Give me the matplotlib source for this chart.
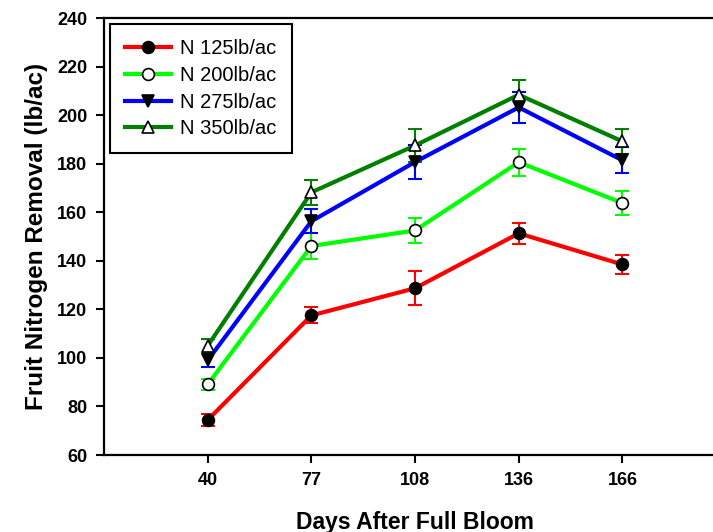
import matplotlib
matplotlib.use('Agg')
import matplotlib.pyplot as plt

days = ['40', '77', '108', '136', '166']

labels = ['N 125lb/ac', 'N 200lb/ac', 'N 275lb/ac', 'N 350lb/ac']

n125 = [74.4, 117.5, 128.7, 151.3, 138.5]
n125_se = [2.4, 3.3, 7.0, 4.3, 3.8]

n200 = [89.1, 146.1, 152.5, 180.6, 163.8]
n200_se = [2.2, 5.2, 5.1, 5.6, 4.9]

n275 = [99.0, 156.3, 180.7, 203.2, 181.4]
n275_se = [2.9, 5.0, 7.2, 6.3, 5.3]

n350 = [105.0, 168.2, 187.5, 208.4, 189.2]
n350_se = [2.8, 5.1, 6.7, 6.1, 5.2]

plt.rcParams['font.family'] = ['Liberation Sans', 'DejaVu Sans']

fig = plt.figure(figsize=(7.13, 5.32), dpi=100)
# axis box runs a little past the right edge of the figure
ax = fig.add_axes([0.1459, 0.1447, 0.8724, 0.8214])

x = list(range(1, len(days) + 1))

series = [
    (n125, n125_se, '#ff0000', 'o', 'black', 'black'),
    (n200, n200_se, '#00ff00', 'o', 'white', 'black'),
    (n275, n275_se, '#0000ff', 'v', 'black', 'black'),
    (n350, n350_se, '#007f00', '^', 'white', 'black'),
]

handles = []
for (y, err, col, mk, mfc, mec), lab in zip(series, labels):
    ax.errorbar(x, y, yerr=err, fmt='none', ecolor=col, elinewidth=1.5,
                capsize=5, capthick=1.5, zorder=2)
    line, = ax.plot(x, y, color=col, lw=3, marker=mk, markersize=8.5,
                    markerfacecolor=mfc, markeredgecolor=mec,
                    markeredgewidth=1.2, label=lab, zorder=3)
    handles.append(line)

ax.set_xlim(0, 6)
ax.set_ylim(60, 240)
ax.set_xticks(x)
ax.set_xticklabels(days)
ax.set_yticks(range(60, 241, 20))

for s in ax.spines.values():
    s.set_linewidth(1.6)

ax.tick_params(direction='out', length=6, width=1.5, pad=6, labelsize=13)
for t in ax.get_xticklabels() + ax.get_yticklabels():
    t.set_fontweight('bold')

ax.set_ylabel('Fruit Nitrogen Removal (lb/ac)', fontsize=17.5, fontweight='bold')
ax.yaxis.set_label_coords(-0.09, 0.5)
ax.set_xlabel('Days After Full Bloom', fontsize=16.5, fontweight='bold')
ax.xaxis.set_label_coords(0.5, -0.127)

leg = ax.legend(handles=handles, loc='upper left',
                bbox_to_anchor=(0.0096, 0.986), borderaxespad=0,
                fontsize=14.5, handlelength=2.3, handletextpad=0.45,
                labelspacing=0.38, borderpad=0.75, fancybox=False,
                framealpha=1)
leg.get_frame().set_edgecolor('black')
leg.get_frame().set_linewidth(1.5)

fig.savefig('out.png', dpi=100)
